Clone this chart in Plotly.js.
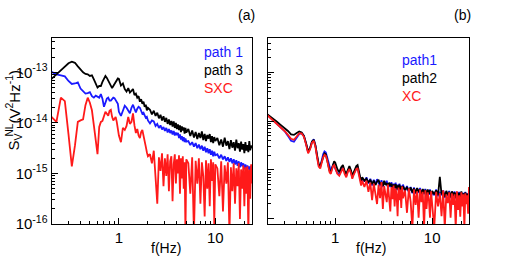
<!DOCTYPE html>
<html>
<head>
<meta charset="utf-8">
<script src="https://cdn.plot.ly/plotly-3.0.1.min.js"></script>
<style>
  html, body { margin: 0; padding: 0; background: #fff; }
  #chart { width: 509px; height: 267px; }
</style>
</head>
<body>
<div id="chart"></div>
<script>
// Frequency grid (Hz), shared by both panels
const freq = [
  0.2,0.225,0.25,0.275,0.3,0.325,0.35,0.375,0.4,0.425,0.45,0.475,0.5,0.525,0.55,0.575,0.6,0.625,0.65,0.675,0.7,0.725,0.75,0.775,0.8,0.825,0.85,0.875,0.9,0.925,0.95,0.975,1.0,
  1.05,1.1,1.15,1.2,1.25,1.3,1.35,1.4,1.45,1.5,1.55,1.6,1.65,1.7,1.75,1.8,1.85,1.9,1.95,2.0,
  2.1,2.2,2.3,2.4,2.5,2.6,2.7,2.8,2.9,3.0,3.1,3.2,3.3,3.4,3.5,3.6,3.7,3.8,3.9,4.0,4.1,4.2,4.3,4.4,4.5,4.6,4.7,4.8,4.9,5.0,
  5.25,5.5,5.75,6.0,6.25,6.5,6.75,7.0,7.25,7.5,7.75,8.0,8.25,8.5,8.75,9.0,9.25,9.5,9.75,10.0,
  10.5,11,11.5,12,12.5,13,13.5,14,14.5,15,15.5,16,16.5,17,17.5,18,18.5,19,19.5,20,20.5,21,21.5,22,22.5,23,23.5,24
];

// Panel (a): log10 of the noise spectral density S_V^NL (V^2 Hz^-1)
const aPath1 = [
  -12.99,-13.04,-13.06,-13.08,-13.17,-13.23,-13.22,-13.20,-13.32,-13.37,-13.42,-13.41,-13.39,-13.47,-13.50,-13.46,-13.49,-13.50,-13.43,-13.52,-13.68,-13.60,-13.52,-13.50,-13.56,-13.56,-13.53,-13.50,-13.51,-13.56,-13.60,-13.62,-13.78,
  -13.86,-13.76,-13.66,-13.70,-13.76,-13.81,-13.70,-13.64,-13.72,-13.79,-13.72,-13.68,-13.70,-13.77,-13.82,-13.80,-13.86,-13.90,-13.88,-13.95,
  -14.01,-13.95,-13.97,-14.06,-14.02,-14.10,-14.05,-14.13,-14.08,-14.16,-14.10,-14.19,-14.12,-14.20,-14.15,-14.23,-14.16,-14.25,-14.19,-14.24,-14.20,-14.30,-14.23,-14.33,-14.26,-14.36,-14.28,-14.38,-14.31,-14.37,
  -14.36,-14.44,-14.38,-14.47,-14.40,-14.50,-14.43,-14.52,-14.45,-14.55,-14.47,-14.58,-14.50,-14.60,-14.52,-14.63,-14.55,-14.66,-14.57,-14.64,
  -14.62,-14.70,-14.63,-14.72,-14.66,-14.75,-14.68,-14.77,-14.70,-14.80,-14.72,-14.82,-14.74,-14.85,-14.76,-14.88,-14.78,-14.86,-14.80,-14.92,-14.82,-14.95,-14.84,-14.92,-14.86,-14.98,-14.85,-14.90
];
const aPath3 = [
  -13.13,-13.04,-12.95,-12.88,-12.82,-12.79,-12.81,-12.88,-12.95,-13.00,-13.03,-13.04,-13.07,-13.06,-13.14,-13.22,-13.30,-13.27,-13.27,-13.19,-13.12,-13.07,-13.11,-13.17,-13.21,-13.27,-13.31,-13.27,-13.23,-13.21,-13.16,-13.12,-13.13,
  -13.26,-13.22,-13.33,-13.38,-13.31,-13.40,-13.36,-13.33,-13.45,-13.42,-13.50,-13.47,-13.58,-13.53,-13.62,-13.58,-13.68,-13.64,-13.75,-13.70,
  -13.74,-13.83,-13.76,-13.86,-13.80,-13.91,-13.84,-13.95,-13.87,-13.98,-13.90,-14.02,-13.93,-14.04,-13.96,-14.07,-13.97,-14.10,-14.00,-14.12,-14.03,-14.14,-14.05,-14.18,-14.07,-14.15,-14.09,-14.21,-14.10,-14.19,
  -14.12,-14.26,-14.15,-14.29,-14.18,-14.32,-14.20,-14.30,-14.17,-14.34,-14.22,-14.36,-14.24,-14.31,-14.22,-14.38,-14.26,-14.40,-14.28,-14.36,
  -14.30,-14.44,-14.33,-14.47,-14.29,-14.45,-14.36,-14.52,-14.34,-14.49,-14.38,-14.55,-14.33,-14.50,-14.40,-14.57,-14.37,-14.53,-14.42,-14.60,-14.38,-14.55,-14.44,-14.58,-14.36,-14.54,-14.45,-14.50
];
const aSXC = [
  -13.88,-13.98,-13.50,-13.57,-14.22,-14.86,-14.45,-13.98,-13.95,-13.93,-13.65,-13.50,-13.60,-13.75,-14.05,-14.40,-14.62,-14.08,-13.98,-13.96,-13.88,-13.78,-13.82,-13.86,-13.76,-13.74,-13.88,-13.95,-13.92,-13.88,-13.98,-14.15,-14.25,
  -14.38,-14.10,-14.14,-14.06,-13.88,-14.02,-13.98,-13.81,-14.05,-14.20,-14.12,-14.25,-14.30,-14.18,-14.14,-14.28,-14.40,-14.47,-14.58,-14.66,
  -14.62,-14.80,-14.55,-15.00,-15.60,-14.68,-14.95,-14.60,-15.25,-14.70,-15.05,-14.62,-15.35,-14.76,-14.66,-15.55,-14.82,-14.62,-15.20,-14.72,-15.00,-14.64,-15.40,-14.70,-15.10,-14.66,-15.30,-14.78,-16.20,-14.72,
  -14.80,-15.40,-14.68,-16.20,-14.75,-15.20,-14.70,-15.60,-14.78,-15.05,-15.85,-14.74,-15.30,-14.80,-15.65,-14.72,-15.15,-14.78,-16.00,-14.82,
  -14.90,-15.45,-14.76,-15.75,-14.84,-15.20,-14.78,-16.20,-14.88,-15.35,-14.80,-15.60,-14.90,-15.25,-14.80,-15.90,-14.92,-15.30,-14.84,-15.65,-14.88,-15.40,-14.86,-16.20,-14.92,-15.50,-14.82,-15.20
];

// Panel (b): log10 of S_V^NL
const bPath1 = [
  -13.87,-13.96,-14.05,-14.12,-14.20,-14.30,-14.40,-14.42,-14.34,-14.26,-14.24,-14.30,-14.46,-14.64,-14.56,-14.42,-14.37,-14.50,-14.72,-14.90,-14.94,-14.80,-14.68,-14.62,-14.64,-14.74,-14.86,-14.98,-15.02,-14.96,-14.90,-14.92,-14.96,
  -15.06,-15.10,-15.00,-14.95,-15.06,-15.12,-15.02,-14.96,-15.04,-15.15,-15.08,-15.02,-14.97,-14.95,-15.06,-15.20,-15.26,-15.17,-15.22,-15.24,
  -15.15,-15.28,-15.18,-15.32,-15.20,-15.30,-15.19,-15.25,-15.33,-15.21,-15.35,-15.24,-15.30,-15.22,-15.37,-15.27,-15.35,-15.25,-15.40,-15.28,-15.38,-15.26,-15.42,-15.30,-15.40,-15.28,-15.43,-15.32,-15.41,-15.30,
  -15.44,-15.33,-15.46,-15.35,-15.48,-15.36,-15.49,-15.38,-15.47,-15.37,-15.52,-15.40,-15.50,-15.39,-15.54,-15.42,-15.51,-15.40,-15.55,-15.44,
  -15.52,-15.40,-15.54,-15.45,-15.52,-15.42,-15.57,-15.45,-15.54,-15.43,-15.58,-15.46,-15.55,-15.44,-15.59,-15.47,-15.56,-15.45,-15.60,-15.46,-15.57,-15.47,-15.60,-15.45,-15.57,-15.48,-15.59,-15.50
];
const bPath2 = [
  -13.86,-13.93,-14.01,-14.08,-14.14,-14.20,-14.27,-14.28,-14.24,-14.21,-14.23,-14.30,-14.45,-14.62,-14.55,-14.42,-14.38,-14.50,-14.70,-14.88,-14.92,-14.82,-14.72,-14.66,-14.68,-14.78,-14.90,-15.02,-15.04,-14.95,-14.86,-14.82,-14.85,
  -14.98,-15.05,-14.95,-14.90,-15.02,-15.08,-14.98,-14.92,-15.00,-15.12,-15.05,-14.98,-14.92,-14.90,-15.02,-15.18,-15.24,-15.15,-15.20,-15.22,
  -15.18,-15.26,-15.20,-15.29,-15.22,-15.31,-15.24,-15.20,-15.30,-15.25,-15.33,-15.22,-15.31,-15.27,-15.35,-15.26,-15.33,-15.28,-15.38,-15.30,-15.36,-15.29,-15.40,-15.32,-15.38,-15.30,-15.41,-15.34,-15.39,-15.33,
  -15.42,-15.35,-15.44,-15.36,-15.46,-15.38,-15.47,-15.37,-15.45,-15.40,-15.50,-15.39,-15.48,-15.41,-15.52,-15.40,-15.49,-15.42,-15.53,-15.43,
  -15.50,-15.42,-15.52,-15.14,-15.50,-15.44,-15.55,-15.43,-15.52,-15.45,-15.56,-15.44,-15.53,-15.46,-15.57,-15.45,-15.54,-15.47,-15.58,-15.44,-15.55,-15.48,-15.58,-15.46,-15.55,-15.49,-15.57,-15.47
];
const bXC = [
  -13.88,-13.97,-14.06,-14.13,-14.20,-14.28,-14.36,-14.38,-14.31,-14.25,-14.25,-14.32,-14.48,-14.66,-14.58,-14.44,-14.40,-14.53,-14.75,-14.93,-14.97,-14.85,-14.74,-14.69,-14.71,-14.80,-14.92,-15.05,-15.08,-14.99,-14.92,-14.90,-14.95,
  -15.08,-15.12,-15.02,-14.96,-15.08,-15.15,-15.04,-14.98,-15.06,-15.18,-15.10,-15.03,-14.98,-14.97,-15.08,-15.25,-15.32,-15.22,-15.30,-15.35,
  -15.22,-15.45,-15.26,-15.62,-15.28,-15.50,-15.70,-15.30,-15.58,-15.25,-15.80,-15.33,-15.48,-15.66,-15.30,-15.55,-15.85,-15.35,-15.60,-15.32,-15.75,-15.38,-15.52,-15.95,-15.36,-15.62,-15.40,-15.78,-15.34,-15.58,
  -15.42,-15.88,-15.38,-15.65,-16.20,-15.40,-15.72,-15.44,-15.98,-15.40,-15.66,-15.45,-16.20,-15.42,-15.80,-15.46,-15.60,-15.98,-15.44,-15.70,
  -16.20,-15.45,-15.75,-15.48,-15.95,-15.42,-16.20,-15.50,-15.68,-15.46,-15.98,-15.48,-15.72,-15.50,-16.20,-15.44,-15.82,-15.52,-15.96,-15.46,-15.75,-15.50,-16.20,-15.48,-15.70,-15.52,-15.90,-15.35
];

// Axis tick labels
const xMajor = [1, 10];
const xMajorText = ['1', '10'];
const xMinor = [0.3,0.4,0.5,0.6,0.7,0.8,0.9,2,3,4,5,6,7,8,9,20];
const yMajor = [1e-16, 1e-15, 1e-14, 1e-13];
const yMajorText = ['10<sup>-16</sup>', '10<sup>-15</sup>', '10<sup>-14</sup>', '10<sup>-13</sup>'];
const yMinor = [2e-16,3e-16,4e-16,5e-16,6e-16,7e-16,8e-16,9e-16,
                2e-15,3e-15,4e-15,5e-15,6e-15,7e-15,8e-15,9e-15,
                2e-14,3e-14,4e-14,5e-14,6e-14,7e-14,8e-14,9e-14,
                2e-13,3e-13,4e-13];

const FONT = '"Liberation Sans", Arial, Helvetica, sans-serif';
const BLUE = '#1a1aff', BLACK = '#000000', RED = '#ff1a1a';

const fromLog = arr => arr.map(v => Math.pow(10, v));

function trace(vals, color, xa, ya) {
  return {
    x: freq, y: fromLog(vals), xaxis: xa, yaxis: ya,
    type: 'scatter', mode: 'lines',
    line: { color: color, width: 1.8 },
    hoverinfo: 'skip', showlegend: false
  };
}

const data = [
  trace(aPath1, BLUE, 'x', 'y'),
  trace(aPath3, BLACK, 'x', 'y'),
  trace(aSXC, RED, 'x', 'y'),
  trace(bPath1, BLUE, 'x2', 'y2'),
  trace(bPath2, BLACK, 'x2', 'y2'),
  trace(bXC, RED, 'x2', 'y2')
];

function xAxis(domain, anchor) {
  return {
    type: 'log', domain: domain, anchor: anchor,
    range: [Math.log10(0.2), Math.log10(24)],
    showline: true, linecolor: '#000', linewidth: 1, mirror: true,
    showgrid: false, zeroline: false,
    ticks: 'inside', ticklen: 6, tickwidth: 1, tickcolor: '#000',
    tickmode: 'array', tickvals: xMajor, ticktext: xMajorText,
    tickfont: { family: FONT, size: 15, color: '#000' },
    minor: { ticks: 'inside', ticklen: 3, tickwidth: 1, tickcolor: '#000',
             tickmode: 'array', tickvals: xMinor, showgrid: false }
  };
}
function yAxis(domain, anchor, range, labels) {
  return {
    type: 'log', domain: domain, anchor: anchor, range: range,
    showline: true, linecolor: '#000', linewidth: 1, mirror: true,
    showgrid: false, zeroline: false,
    ticks: 'inside', ticklen: 6, tickwidth: 1, tickcolor: '#000',
    tickmode: 'array', tickvals: yMajor, ticktext: yMajorText,
    showticklabels: labels,
    tickfont: { family: FONT, size: 15, color: '#000' },
    minor: { ticks: 'inside', ticklen: 3, tickwidth: 1, tickcolor: '#000',
             tickmode: 'array', tickvals: yMinor, showgrid: false }
  };
}

const W = 509, H = 267;
const px = x => x / W, py = y => 1 - y / H;

function label(text, x, y, color, xanchor, extra) {
  return Object.assign({
    xref: 'paper', yref: 'paper', x: px(x), y: py(y),
    text: text, showarrow: false, xanchor: xanchor || 'center', yanchor: 'middle',
    font: { family: FONT, size: 14, color: color || '#000' }
  }, extra || {});
}

// Rotated y-axis title, assembled from pieces so that "NL" sits above the subscript "V"
const rot = size => ({ textangle: -90, font: { family: FONT, size: size, color: '#000' } });

const layout = {
  width: W, height: H,
  margin: { l: 0, r: 0, t: 0, b: 0 },
  paper_bgcolor: '#fff', plot_bgcolor: '#fff',
  showlegend: false,
  xaxis: xAxis([px(51.5), px(252)], 'y'),
  yaxis: yAxis([1 - 224 / H, 1 - 38 / H], 'x', [-16, -12.32], true),
  xaxis2: xAxis([px(267.5), px(469)], 'y2'),
  yaxis2: yAxis([1 - 224 / H, 1 - 38 / H], 'x2', [-16.11, -12.29], false),
  annotations: [
    label('(a)', 246, 15),
    label('(b)', 462, 15),
    label('f(Hz)', 166, 248),
    label('f(Hz)', 371, 248),
    label('S<sub>V</sub>', 13.5, 142, '#000', 'center', rot(15)),
    label('NL', 8.5, 130, '#000', 'center', rot(10)),
    label('(V<sup>2</sup>Hz<sup>-1</sup>)', 12.5, 97, '#000', 'center', rot(15)),
    label('path 1', 202, 52, BLUE, 'left'),
    label('path 3', 202, 70, BLACK, 'left'),
    label('SXC', 202, 88, RED, 'left'),
    label('path1', 400, 60, BLUE, 'left'),
    label('path2', 400, 78, BLACK, 'left'),
    label('XC', 400, 96, RED, 'left')
  ]
};

Plotly.newPlot('chart', data, layout, { staticPlot: true, displayModeBar: false });
</script>
</body>
</html>
